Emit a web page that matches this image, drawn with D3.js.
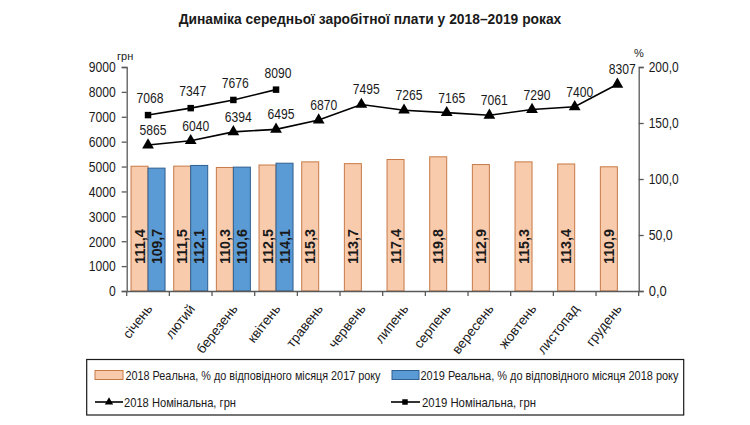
<!DOCTYPE html>
<html>
<head>
<meta charset="utf-8">
<script src="https://cdn.jsdelivr.net/npm/d3@7"></script>
<style>
  body { margin: 0; background: #fff; }
  svg { display: block; }
  text { font-family: "Liberation Sans", Arial, sans-serif; fill: #1a1a1a; }
</style>
</head>
<body>
<svg id="chart" width="750" height="425"></svg>
<script>
// ---- data ----
const months = ["січень","лютий","березень","квітень","травень","червень","липень","серпень","вересень","жовтень","листопад","грудень"];
const real2018 = [111.4,111.5,110.3,112.5,115.3,113.7,117.4,119.8,112.9,115.3,113.4,110.9];
const real2019 = [109.7,112.1,110.6,114.1];
const nominal2018 = [5865,6040,6394,6495,6870,7495,7265,7165,7061,7290,7400,8307];
const nominal2019 = [7068,7347,7676,8090];
const leftTicks = [0,1000,2000,3000,4000,5000,6000,7000,8000,9000];
const rightTicks = [0,50,100,150,200];
const title = "Динаміка середньої заробітної плати у 2018–2019 роках";
const legendLabels = [
  "2018 Реальна, % до відповідного місяця 2017 року",
  "2019 Реальна, % до відповідного місяця 2018 року",
  "2018 Номінальна, грн",
  "2019 Номінальна, грн"
];

const svg = d3.select("#chart");
const pLeft = 126.7, pRight = 638.7, pTop = 67, pBottom = 291;

const x = d3.scaleBand().domain(months).range([pLeft, pRight]).paddingInner(0).paddingOuter(0);
const xs = d3.scaleBand().domain(["2018","2019"]).range([0, x.bandwidth()]).paddingInner(0).paddingOuter(0.255);
const yL = d3.scaleLinear().domain([0, 9000]).range([pBottom, pTop]);
const yR = d3.scaleLinear().domain([0, 200]).range([pBottom, pTop]);

const orangeFill = "#f8cbad", orangeStroke = "#c77a46";
const blueFill = "#5b9bd5", blueStroke = "#2f5f8f";
const axisColor = "#595959";

// helper: condensed text via textLength
function fit(sel, perChar) {
  sel.attr("textLength", function() { return this.textContent.length * perChar; })
     .attr("lengthAdjust", "spacingAndGlyphs");
  return sel;
}

// title
fit(svg.append("text").attr("x", 370).attr("y", 24).attr("text-anchor", "middle")
  .attr("font-size", 14).attr("font-weight", "bold").text(title), 7.22);

// bars 2018
svg.append("g").selectAll("rect").data(real2018).join("rect")
  .attr("x", (d, i) => x(months[i]) + xs("2018"))
  .attr("width", xs.bandwidth())
  .attr("y", d => yR(d)).attr("height", d => yR(0) - yR(d))
  .attr("fill", orangeFill).attr("stroke", orangeStroke).attr("stroke-width", 1);
// bars 2019
svg.append("g").selectAll("rect").data(real2019).join("rect")
  .attr("x", (d, i) => x(months[i]) + xs("2019"))
  .attr("width", xs.bandwidth())
  .attr("y", d => yR(d)).attr("height", d => yR(0) - yR(d))
  .attr("fill", blueFill).attr("stroke", blueStroke).attr("stroke-width", 1);

// bar labels
const fmt1 = d => d3.format(".1f")(d).replace(".", ",");
function barLabels(data, key) {
  const g = svg.append("g");
  const t = g.selectAll("text").data(data).join("text")
    .attr("transform", (d, i) => `translate(${x(months[i]) + xs(key) + xs.bandwidth() / 2},264) rotate(-90)`)
    .attr("dy", "0.36em").attr("font-size", 14).attr("font-weight", "bold")
    .attr("fill", "#1a1a1a").text(d => fmt1(d));
  fit(t, 7.0);
}
barLabels(real2018, "2018");
barLabels(real2019, "2019");

// axes
const axL = svg.append("g").attr("transform", `translate(${pLeft},0)`)
  .call(d3.axisLeft(yL).tickValues(leftTicks).tickSize(5).tickFormat(d3.format("d")));
const axR = svg.append("g").attr("transform", `translate(${pRight},0)`)
  .call(d3.axisRight(yR).tickValues(rightTicks).tickSize(5).tickFormat(fmt1));
const axX = svg.append("g").attr("transform", `translate(0,${pBottom})`)
  .call(d3.axisBottom(x).tickSize(0).tickFormat(""));
[axL, axR, axX].forEach(a => {
  a.select(".domain").attr("stroke", axisColor).attr("stroke-width", 1.3);
  a.selectAll(".tick line").attr("stroke", axisColor).attr("stroke-width", 1.3);
});
axL.selectAll(".tick text").attr("font-size", 15).attr("fill", "#1a1a1a").attr("x", -11)
  .attr("font-family", "Liberation Sans").each(function() { fit(d3.select(this), 6.75); });
axR.selectAll(".tick text").attr("font-size", 15).attr("fill", "#1a1a1a").attr("x", 10)
  .attr("font-family", "Liberation Sans").each(function() { fit(d3.select(this), 6.0); });

// x category boundary ticks
svg.append("g").selectAll("line").data(months.concat(["end"])).join("line")
  .attr("x1", (d, i) => pLeft + i * x.bandwidth()).attr("x2", (d, i) => pLeft + i * x.bandwidth())
  .attr("y1", pBottom).attr("y2", pBottom + 5)
  .attr("stroke", axisColor).attr("stroke-width", 1.3);

// x labels
svg.append("g").selectAll("text").data(months).join("text")
  .attr("transform", d => `translate(${x(d) + x.bandwidth() / 2 + 5},309) rotate(-52)`)
  .attr("text-anchor", "end").attr("font-size", 13.5).text(d => d);

// units
svg.append("text").attr("x", 117).attr("y", 60).attr("font-size", 11).text("грн");
svg.append("text").attr("x", 634).attr("y", 57).attr("font-size", 11).text("%");

// lines
const line = d3.line().x((d, i) => x(months[i]) + x.bandwidth() / 2).y(d => yL(d));
svg.append("path").datum(nominal2018).attr("d", line).attr("fill", "none").attr("stroke", "#000").attr("stroke-width", 1.6);
svg.append("path").datum(nominal2019).attr("d", line).attr("fill", "none").attr("stroke", "#000").attr("stroke-width", 1.6);

const tri = d3.symbol().type(d3.symbolTriangle).size(60);
const sq = d3.symbol().type(d3.symbolSquare).size(42);
svg.append("g").selectAll("path").data(nominal2018).join("path")
  .attr("transform", (d, i) => `translate(${x(months[i]) + x.bandwidth() / 2},${yL(d)})`)
  .attr("d", tri).attr("fill", "#000");
svg.append("g").selectAll("path").data(nominal2019).join("path")
  .attr("transform", (d, i) => `translate(${x(months[i]) + x.bandwidth() / 2},${yL(d)})`)
  .attr("d", sq).attr("fill", "#000");

// line labels
const l18 = svg.append("g").selectAll("text").data(nominal2018).join("text")
  .attr("x", (d, i) => x(months[i]) + x.bandwidth() / 2 + 5)
  .attr("y", d => yL(d) - 10)
  .attr("text-anchor", "middle").attr("font-size", 15).text(d => d);
fit(l18, 6.75);
const l19 = svg.append("g").selectAll("text").data(nominal2019).join("text")
  .attr("x", (d, i) => x(months[i]) + x.bandwidth() / 2 + 2)
  .attr("y", d => yL(d) - 12)
  .attr("text-anchor", "middle").attr("font-size", 15).text(d => d);
fit(l19, 6.75);

// legend
const lg = svg.append("g");
lg.append("rect").attr("x", 86.7).attr("y", 359.5).attr("width", 597).attr("height", 55.5)
  .attr("fill", "#fff").attr("stroke", "#1a1a1a").attr("stroke-width", 1.2);
const row1 = 375, row2 = 402;
lg.append("rect").attr("x", 95).attr("y", row1 - 4.5).attr("width", 28).attr("height", 9)
  .attr("fill", orangeFill).attr("stroke", orangeStroke);
lg.append("rect").attr("x", 392).attr("y", row1 - 4.5).attr("width", 27).attr("height", 9)
  .attr("fill", blueFill).attr("stroke", blueStroke);
lg.append("line").attr("x1", 95).attr("x2", 123).attr("y1", row2).attr("y2", row2).attr("stroke", "#000").attr("stroke-width", 1.6);
lg.append("path").attr("transform", `translate(109,${row2})`).attr("d", d3.symbol().type(d3.symbolTriangle).size(30)).attr("fill", "#000");
lg.append("line").attr("x1", 391).attr("x2", 420).attr("y1", row2).attr("y2", row2).attr("stroke", "#000").attr("stroke-width", 1.6);
lg.append("path").attr("transform", `translate(405,${row2})`).attr("d", d3.symbol().type(d3.symbolSquare).size(30)).attr("fill", "#000");
const legPos = [[125.5, row1, 255], [420.5, row1, 258], [124, row2, 112], [422, row2, 114]];
legPos.forEach((p, i) => {
  lg.append("text").attr("x", p[0]).attr("y", p[1]).attr("dy", "0.36em")
    .attr("font-size", 13).attr("textLength", p[2]).attr("lengthAdjust", "spacingAndGlyphs")
    .text(legendLabels[i]);
});
</script>
</body>
</html>
